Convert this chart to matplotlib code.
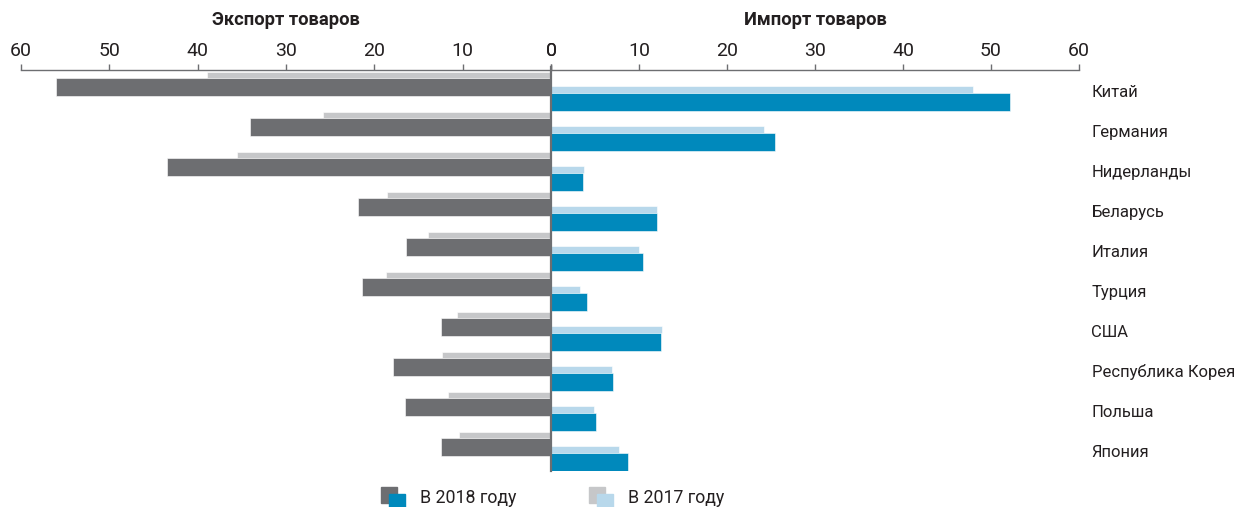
import matplotlib
matplotlib.use("Agg")
import matplotlib.pyplot as plt
from matplotlib.patches import Rectangle
import numpy as np

countries = ["Китай", "Германия", "Нидерланды", "Беларусь", "Италия", "Турция",
             "США", "Республика Корея", "Польша", "Япония"]
export_2018 = [56.0, 34.1, 43.5, 21.8, 16.4, 21.4, 12.5, 17.9, 16.5, 12.4]
export_2017 = [38.9, 25.8, 35.6, 18.6, 13.9, 18.7, 10.6, 12.3, 11.7, 10.4]
import_2018 = [52.2, 25.5, 3.6, 12.1, 10.5, 4.1, 12.5, 7.0, 5.1, 8.8]
import_2017 = [48.0, 24.2, 3.8, 12.0, 10.0, 3.3, 12.6, 6.9, 4.9, 7.7]
ticks = [0, 10, 20, 30, 40, 50, 60]
title_export = "Экспорт товаров"
title_import = "Импорт товаров"
legend_labels = ["В 2018 году", "В 2017 году"]

C_DARK = "#6d6e71"
C_LGRAY = "#c6c7c9"
C_BLUE = "#0089bc"
C_LBLUE = "#b8d8eb"
C_TEXT = "#231f20"
C_AXIS = "#6d6e71"

plt.rcParams['font.family'] = ['Roboto', 'DejaVu Sans']

W, H = 1239, 507
fig = plt.figure(figsize=(W / 100, H / 100), dpi=100)

top_px, bot_px = 70, 471
ax1 = fig.add_axes([21 / W, 1 - bot_px / H, 530 / W, (bot_px - top_px) / H])
ax2 = fig.add_axes([551 / W, 1 - bot_px / H, 528 / W, (bot_px - top_px) / H])

y = np.arange(len(countries))

# export (left)
ax1.barh(y - 0.385, export_2017, height=0.15, color=C_LGRAY, edgecolor="white", linewidth=0.4)
ax1.barh(y - 0.089, export_2018, height=0.44, color=C_DARK, edgecolor="white", linewidth=0.4)
# import (right)
ax2.barh(y - 0.034, import_2017, height=0.167, color=C_LBLUE, edgecolor="white", linewidth=0.4)
ax2.barh(y + 0.279, import_2018, height=0.458, color=C_BLUE, edgecolor="white", linewidth=0.4)

ylim = (9.51, -0.5175)
ax1.set_xlim(60, 0)
ax2.set_xlim(0, 60)
for ax in (ax1, ax2):
    ax.set_ylim(*ylim)
    ax.set_xticks(ticks)
    ax.set_xticklabels([str(t) for t in ticks])
    ax.xaxis.tick_top()
    ax.tick_params(axis='x', direction='out', length=4, width=1, color=C_AXIS,
                   labelsize=14, labelcolor=C_TEXT, pad=3)
    for s in ("left", "right", "bottom"):
        ax.spines[s].set_visible(False)
    ax.spines["top"].set_color(C_AXIS)
    ax.spines["top"].set_linewidth(1)
    ax.set_facecolor("none")

ax1.set_yticks([])
ax2.yaxis.tick_right()
ax2.set_yticks(y)
ax2.set_yticklabels(countries)
ax2.tick_params(axis='y', length=0, pad=9, labelsize=12, labelcolor=C_TEXT)

# zero line
ax2.plot([0, 0], [ylim[0], -0.6], color=C_AXIS, lw=1.6, clip_on=False, zorder=5)

# titles
fig.text((21 + 551) / 2 / W, 1 - 20 / H, title_export, ha="center", va="center",
         fontsize=13.2, fontweight="bold", color=C_TEXT)
fig.text((551 + 1079) / 2 / W, 1 - 20 / H, title_import, ha="center", va="center",
         fontsize=13.2, fontweight="bold", color=C_TEXT)

# legend
def sq(x, ytop, color):
    fig.patches.append(Rectangle((x / W, 1 - (ytop + 16) / H), 16 / W, 16 / H,
                                 transform=fig.transFigure, color=color, zorder=3))

sq(381, 487, C_DARK)
sq(389, 494, C_BLUE)
fig.text(420 / W, 1 - 498 / H, legend_labels[0], ha="left", va="center",
         fontsize=12.8, color=C_TEXT)
sq(589, 487, C_LGRAY)
sq(597, 494, C_LBLUE)
fig.text(628 / W, 1 - 498 / H, legend_labels[1], ha="left", va="center",
         fontsize=12.8, color=C_TEXT)

fig.savefig("out.png", dpi=100)
